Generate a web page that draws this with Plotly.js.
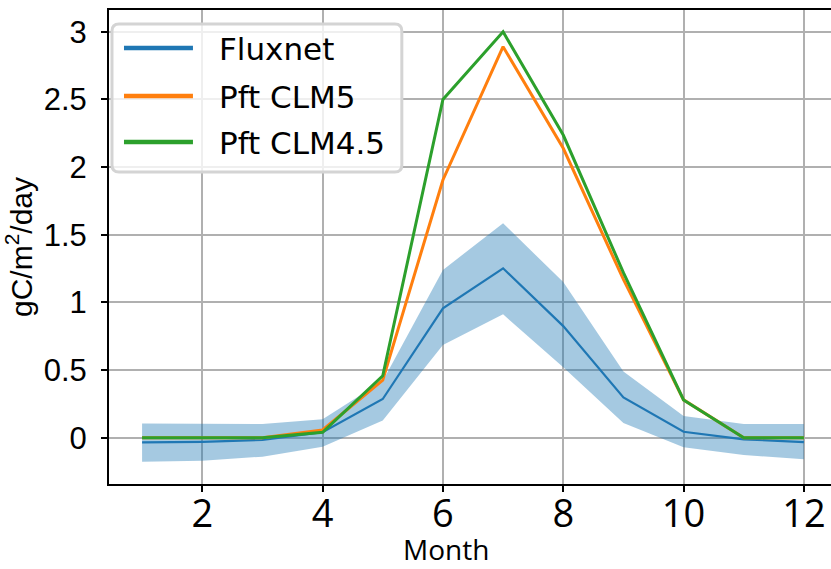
<!DOCTYPE html>
<html>
<head>
<meta charset="utf-8">
<script src="https://cdn.plot.ly/plotly-3.0.1.min.js"></script>
<style>
html, body { margin: 0; padding: 0; overflow: hidden; background: #fff; }
#chart { width: 845px; height: 569px; }
</style>
</head>
<body>
<div id="chart"></div>
<script>
// Data
const months = [1, 2, 3, 4, 5, 6, 7, 8, 9, 10, 11, 12];
const fluxnet = [-0.035, -0.03, -0.017, 0.04, 0.286, 0.956, 1.252, 0.825, 0.298, 0.044, -0.012, -0.032];
const fluxnetUpper = [0.106, 0.104, 0.101, 0.136, 0.42, 1.24, 1.585, 1.15, 0.49, 0.16, 0.101, 0.101];
const fluxnetLower = [-0.177, -0.17, -0.14, -0.066, 0.128, 0.685, 0.912, 0.52, 0.108, -0.071, -0.128, -0.16];
const pftCLM5 = [0, 0, 0, 0.057, 0.426, 1.905, 2.89, 2.139, 1.17, 0.28, 0, 0];
const pftCLM45 = [0, 0, 0, 0.04, 0.458, 2.50, 3.0, 2.237, 1.22, 0.279, 0, 0];
const seriesNames = ['Fluxnet', 'Pft CLM5', 'Pft CLM4.5'];
const seriesColors = ['#1f77b4', '#ff7f0e', '#2ca02c'];
const xTicks = [2, 4, 6, 8, 10, 12];
const yTicks = [0, 0.5, 1, 1.5, 2, 2.5, 3];
const yTickText = ['0', '0.5', '1', '1.5', '2', '2.5', '3'];
const xTitle = 'Month';
const yTitle = 'gC/m<sup>2</sup>/day';

const bandColor = 'rgba(31,119,180,0.4)';
const traces = [
  { x: months, y: fluxnetUpper, type: 'scatter', mode: 'lines', line: { width: 0, color: bandColor },
    showlegend: false, hoverinfo: 'skip' },
  { x: months, y: fluxnetLower, type: 'scatter', mode: 'lines', line: { width: 0, color: bandColor },
    fill: 'tonexty', fillcolor: bandColor, showlegend: false, hoverinfo: 'skip' },
  { x: months, y: fluxnet, type: 'scatter', mode: 'lines', name: seriesNames[0],
    line: { color: seriesColors[0], width: 2.2 }, showlegend: false },
  { x: months, y: pftCLM5, type: 'scatter', mode: 'lines', name: seriesNames[1],
    line: { color: seriesColors[1], width: 3 }, showlegend: false },
  { x: months, y: pftCLM45, type: 'scatter', mode: 'lines', name: seriesNames[2],
    line: { color: seriesColors[2], width: 3 }, showlegend: false }
];

// plot-area geometry (pixels) used to place the legend box and titles in paper units
const W = 845, H = 569, ML = 109, MR = 7.6, MT = 10, MB = 85;
const PW = W - ML - MR, PH = H - MT - MB;
const px = v => (v - ML) / PW;
const py = v => 1 - (v - MT) / PH;

// legend box (rounded rectangle)
const bx0 = 112, bx1 = 402, by0 = 24, by1 = 172, r = 7;
const boxPath = `M ${px(bx0 + r)},${py(by0)} L ${px(bx1 - r)},${py(by0)} Q ${px(bx1)},${py(by0)} ${px(bx1)},${py(by0 + r)} ` +
  `L ${px(bx1)},${py(by1 - r)} Q ${px(bx1)},${py(by1)} ${px(bx1 - r)},${py(by1)} ` +
  `L ${px(bx0 + r)},${py(by1)} Q ${px(bx0)},${py(by1)} ${px(bx0)},${py(by1 - r)} ` +
  `L ${px(bx0)},${py(by0 + r)} Q ${px(bx0)},${py(by0)} ${px(bx0 + r)},${py(by0)} Z`;

const legendRows = [48, 96, 142];
const shapes = [
  { type: 'path', xref: 'paper', yref: 'paper', path: boxPath, layer: 'above',
    fillcolor: 'rgba(255,255,255,0.8)', line: { color: '#d4d4d4', width: 3 } }
];
const annotations = [];
seriesNames.forEach((name, i) => {
  shapes.push({ type: 'line', xref: 'paper', yref: 'paper', layer: 'above',
    x0: px(124), x1: px(193), y0: py(legendRows[i]), y1: py(legendRows[i]),
    line: { color: seriesColors[i], width: 4.5 } });
  annotations.push({ xref: 'paper', yref: 'paper', x: px(217), y: py(legendRows[i] + 1),
    xanchor: 'left', yanchor: 'middle', showarrow: false, text: name,
    font: { family: 'DejaVu Sans', size: 31, color: '#000' } });
});
// x-axis title
annotations.push({ xref: 'paper', yref: 'paper', x: px(446), y: py(549),
  xanchor: 'center', yanchor: 'middle', showarrow: false, text: xTitle,
  font: { family: 'Open Sans', size: 28, color: '#000' } });

const layout = {
  width: W, height: H,
  margin: { l: ML, r: MR, t: MT, b: MB, pad: 0 },
  paper_bgcolor: '#ffffff', plot_bgcolor: '#ffffff',
  showlegend: false,
  shapes: shapes,
  annotations: annotations,
  xaxis: {
    range: [0.45, 12.55], tickvals: xTicks, ticktext: xTicks.map(String),
    showgrid: true, gridcolor: '#b0b0b0', gridwidth: 2,
    showline: true, linecolor: '#000', linewidth: 2, mirror: true,
    ticks: 'outside', ticklen: 6, tickwidth: 2, tickcolor: '#000',
    tickfont: { family: 'Open Sans', size: 38, color: '#000' },
    ticklabelstandoff: -11,
    zeroline: false
  },
  yaxis: {
    range: [-0.342, 3.161], tickvals: yTicks, ticktext: yTickText,
    showgrid: true, gridcolor: '#b0b0b0', gridwidth: 2,
    showline: true, linecolor: '#000', linewidth: 2, mirror: true,
    ticks: 'outside', ticklen: 6, tickwidth: 2, tickcolor: '#000',
    tickfont: { family: 'Liberation Sans', size: 31, color: '#000' },
    ticklabelstandoff: 8,
    zeroline: false,
    title: { text: yTitle, font: { family: 'Liberation Sans', size: 30, color: '#000' }, standoff: 6 }
  }
};

Plotly.newPlot('chart', traces, layout, { displayModeBar: false, staticPlot: true });
</script>
</body>
</html>
